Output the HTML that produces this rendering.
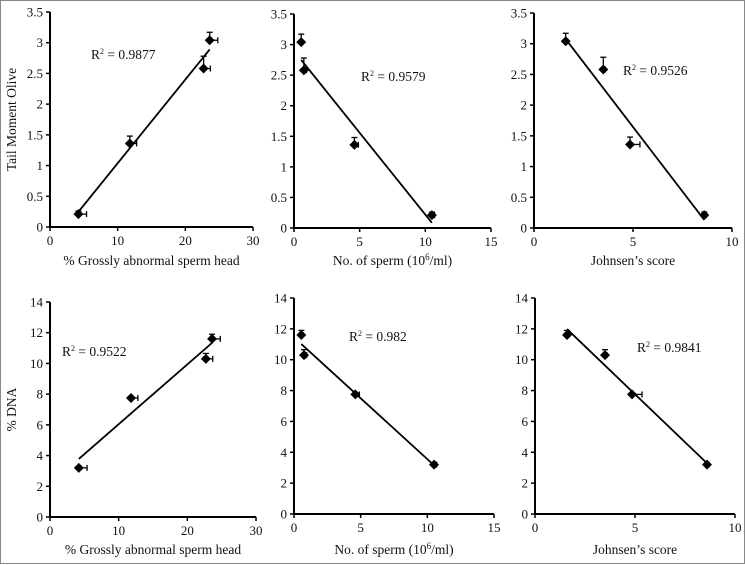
<!DOCTYPE html>
<html><head><meta charset="utf-8">
<style>
html,body{margin:0;padding:0;background:#fff;}
#wrap{width:745px;height:564px;position:relative;box-sizing:border-box;border:1px solid #888;}
svg{position:absolute;left:0;top:0;}
text{font-family:"Liberation Serif",serif;fill:#111;}
</style></head><body>
<div id="wrap">
<svg id="chart" width="745" height="564"></svg>
</div>
<script>
// Data
const grossHead = [4.2, 11.8, 22.7, 23.6];
const grossHeadErr = [1.2, 1.0, 1.0, 1.2];
const spermCount = [10.5, 4.6, 0.75, 0.55];
const spermCountErr = [0.2, 0.3, 0.2, 0.1];
const johnsen = [8.6, 4.85, 3.5, 1.6];
const johnsenErr = [0.1, 0.5, 0.1, 0.1];
const tailMoment = [0.21, 1.36, 2.58, 3.04];
const tailMomentErr = [0.05, 0.12, 0.2, 0.13];
const pctDNA = [3.2, 7.75, 10.3, 11.6];
const pctDNAErr = [0.1, 0.1, 0.35, 0.3];
const r2Labels = ["0.9877","0.9579","0.9526","0.9522","0.982","0.9841"];
const tailTicks = ["0","0.5","1","1.5","2","2.5","3","3.5"];
const dnaTicks = ["0","2","4","6","8","10","12","14"];
const grossTicks = ["0","10","20","30"];
const spermTicks = ["0","5","10","15"];
const johnsenTicks = ["0","5","10"];

const NS="http://www.w3.org/2000/svg";
const svg=document.getElementById('chart');
function el(tag,attrs,parent){const e=document.createElementNS(NS,tag);for(const k in attrs)e.setAttribute(k,attrs[k]);(parent||svg).appendChild(e);return e;}

const panels=[
 {id:'tail-vs-head',x0:49,x1:252,y0:226,y1:11,xs:grossHead,xe:grossHeadErr,xt:grossTicks,ys:tailMoment,ye:tailMomentErr,yt:tailTicks,xl:'% Grossly abnormal sperm head',yl:'Tail Moment Olive',r:0,rx:90,ry:58,xly:264},
 {id:'tail-vs-sperm',x0:293,x1:490,y0:227,y1:13,xs:spermCount,xe:spermCountErr,xt:spermTicks,ys:tailMoment,ye:tailMomentErr,yt:tailTicks,xl:'No. of sperm (10',sup:true,yl:'',r:1,rx:360,ry:80,xly:264},
 {id:'tail-vs-johnsen',x0:533,x1:731,y0:227,y1:12,xs:johnsen,xe:johnsenErr,xt:johnsenTicks,ys:tailMoment,ye:tailMomentErr,yt:tailTicks,xl:"Johnsen’s score",yl:'',r:2,rx:622,ry:74,xly:264},
 {id:'dna-vs-head',x0:49,x1:255,y0:516,y1:301,xs:grossHead,xe:grossHeadErr,xt:grossTicks,ys:pctDNA,ye:pctDNAErr,yt:dnaTicks,xl:'% Grossly abnormal sperm head',yl:'% DNA',r:3,rx:61,ry:355,xly:553},
 {id:'dna-vs-sperm',x0:293,x1:493,y0:513,y1:297,xs:spermCount,xe:spermCountErr,xt:spermTicks,ys:pctDNA,ye:pctDNAErr,yt:dnaTicks,xl:'No. of sperm (10',sup:true,yl:'',r:4,rx:348,ry:340,xly:553},
 {id:'dna-vs-johnsen',x0:534,x1:734,y0:513,y1:297,xs:johnsen,xe:johnsenErr,xt:johnsenTicks,ys:pctDNA,ye:pctDNAErr,yt:dnaTicks,xl:"Johnsen’s score",yl:'',r:5,rx:636,ry:351,xly:553}
];

panels.forEach(p=>{
 const g=el('g',{});
 
 
 const xmax=parseFloat(p.xt[p.xt.length-1]), ymax=parseFloat(p.yt[p.yt.length-1]);
 const X=v=>p.x0+(v/xmax)*(p.x1-p.x0);
 const Y=v=>p.y0-(v/ymax)*(p.y0-p.y1);
 // axes
 const ya=el('line',{x1:p.x0,y1:p.y0,x2:p.x0,y2:p.y1,stroke:'#000','stroke-width':2},g);
 
 const xa=el('line',{x1:p.x0,y1:p.y0,x2:p.x1,y2:p.y0,stroke:'#000','stroke-width':2},g);
 
 p.yt.forEach(t=>{const v=parseFloat(t),y=Y(v);
  el('line',{x1:p.x0-4,y1:y,x2:p.x0,y2:y,stroke:'#000','stroke-width':1.5},g);
  const tx=el('text',{x:p.x0-7,y:y+4.5,'text-anchor':'end','font-size':13},g);tx.textContent=t;
  });
 p.xt.forEach(t=>{const v=parseFloat(t),x=X(v);
  el('line',{x1:x,y1:p.y0,x2:x,y2:p.y0+4,stroke:'#000','stroke-width':1.5},g);
  const tx=el('text',{x:x,y:p.y0+18,'text-anchor':'middle','font-size':13},g);tx.textContent=t;
  });
 // x title
 const xt=el('text',{x:(p.x0+p.x1)/2,y:p.xly,'text-anchor':'middle','font-size':13.5},g);
 if(p.sup){xt.innerHTML='No. of sperm (10<tspan dy="-5" font-size="9">6</tspan><tspan dy="5">/ml)</tspan>';}
 else xt.textContent=p.xl;
 
 if(p.yl){const yt=el('text',{x:0,y:0,'text-anchor':'middle','font-size':13.5,transform:`translate(15,${(p.y0+p.y1)/2}) rotate(-90)`},g);
  yt.textContent=p.yl;}
 // regression
 const n=p.xs.length;let sx=0,sy=0,sxx=0,sxy=0;
 for(let i=0;i<n;i++){sx+=p.xs[i];sy+=p.ys[i];sxx+=p.xs[i]*p.xs[i];sxy+=p.xs[i]*p.ys[i];}
 const b=(n*sxy-sx*sy)/(n*sxx-sx*sx),a=(sy-b*sx)/n;
 const xmn=Math.min(...p.xs),xmx=Math.max(...p.xs);
 const tl=el('line',{x1:X(xmn),y1:Y(a+b*xmn),x2:X(xmx),y2:Y(a+b*xmx),stroke:'#000','stroke-width':1.8},g);
 
 // points
 for(let i=0;i<n;i++){
  const cx=X(p.xs[i]),cy=Y(p.ys[i]);
  const ex=X(p.xs[i]+p.xe[i]);
  el('line',{x1:cx,y1:cy,x2:ex,y2:cy,stroke:'#000','stroke-width':1.3},g);
  el('line',{x1:ex,y1:cy-3,x2:ex,y2:cy+3,stroke:'#000','stroke-width':1.3},g);
  const ey=Y(p.ys[i]+p.ye[i]);
  el('line',{x1:cx,y1:cy,x2:cx,y2:ey,stroke:'#000','stroke-width':1.3},g);
  el('line',{x1:cx-3,y1:ey,x2:cx+3,y2:ey,stroke:'#000','stroke-width':1.3},g);
  const d=el('polygon',{points:`${cx},${cy-5} ${cx+5},${cy} ${cx},${cy+5} ${cx-5},${cy}`,fill:'#000'},g);
  
 }
 const rt=el('text',{x:p.rx,y:p.ry,'font-size':13.5},g);
 rt.innerHTML='R<tspan dy="-5" font-size="8">2</tspan><tspan dy="5"> = '+r2Labels[p.r]+'</tspan>';
 
});
</script>
</body></html>
